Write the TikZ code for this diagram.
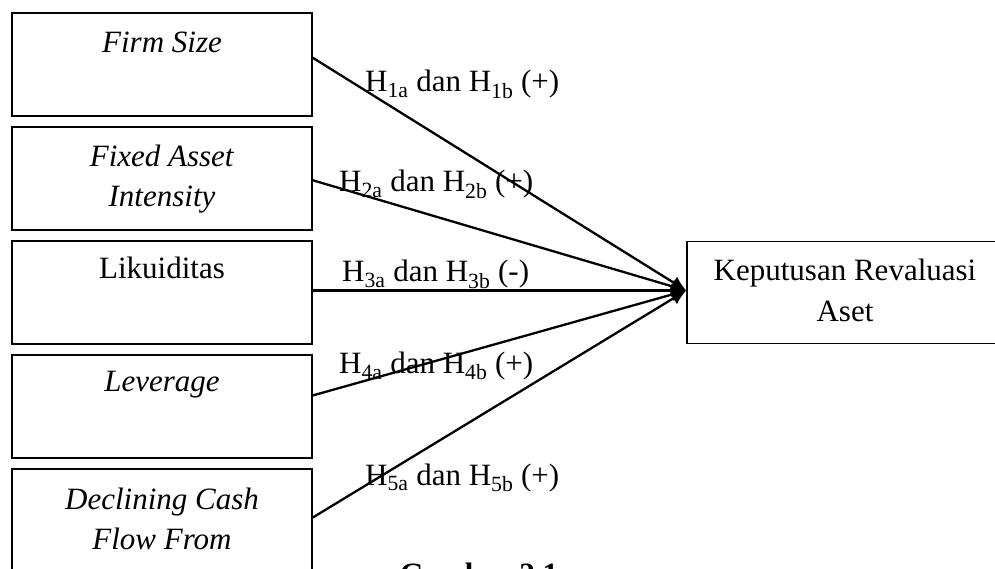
\documentclass[tikz,border=0pt]{standalone}
\usepackage{fontspec}
\setmainfont{Liberation Serif}
\usetikzlibrary{arrows.meta}
\begin{document}
\begin{tikzpicture}[x=1pt,y=-1pt,
  box/.style={draw, line width=1.5pt, minimum width=300pt, minimum height=103pt, inner sep=0pt},
  rbox/.style={draw, line width=1.5pt, minimum width=316pt, minimum height=101.6pt, inner sep=0pt},
  txt/.style={inner sep=0pt, anchor=base, font=\fontsize{31}{40}\selectfont},
  hyp/.style={inner sep=0pt, anchor=base west, font=\fontsize{31}{40}\selectfont},
  link/.style={line width=2.3pt, -{Latex[length=15pt,width=14pt]}}]
\useasboundingbox (0,0) rectangle (995,568);
\clip (0,0) rectangle (995,568);

% independent variable boxes
\node[box] (b1) at (162,64.5) {};
\node[box] (b2) at (162,178.5) {};
\node[box] (b3) at (162,292.7) {};
\node[box] (b4) at (162,406.7) {};
\node[box] (b5) at (162,520.5) {};

\node[txt] (t1) at ([yshift=-40pt]b1.north) {\textit{Firm Size}};
\node[txt] (t2a) at ([yshift=-40pt]b2.north) {\textit{Fixed Asset}};
\node[txt] (t2b) at ([yshift=-80pt]b2.north) {\textit{Intensity}};
\node[txt] (t3) at ([yshift=-38.5pt]b3.north) {Likuiditas};
\node[txt] (t4) at ([yshift=-37.5pt]b4.north) {\textit{Leverage}};
\node[txt] (t5a) at ([yshift=-41pt]b5.north) {\textit{Declining Cash}};
\node[txt] (t5b) at ([yshift=-81pt]b5.north) {\textit{Flow From}};

% dependent variable box
\node[rbox] (rb) at (845,292.5) {};
\node[txt] (r1) at ([yshift=-40pt]rb.north) {Keputusan Revaluasi};
\node[txt] (r2) at ([yshift=-81pt]rb.north) {Aset};

\coordinate (tip) at ([yshift=2pt]rb.west);
\coordinate (s1) at ([yshift=-45.5pt]b1.north east);
\coordinate (s2) at ([yshift=-54pt]b2.north east);
\coordinate (s3) at (b3.east |- tip);
\coordinate (s4) at ([yshift=-41pt]b4.north east);
\coordinate (s5) at ([yshift=-49.3pt]b5.north east);

\draw[link] (s1) -- (tip);
\draw[link] (s2) -- (tip);
\draw[link] (s3) -- (tip);
\draw[link] (s4) -- (tip);
\draw[link] (s5) -- (tip);

% hypothesis labels
\node[hyp] (h1) at (365,91.7) {H\textsubscript{1a} dan H\textsubscript{1b} (+)};
\node[hyp] (h2) at (339,191.7) {H\textsubscript{2a} dan H\textsubscript{2b} (+)};
\node[hyp] (h3) at (342,281.7) {H\textsubscript{3a} dan H\textsubscript{3b} (-)};
\node[hyp] (h4) at (339,373.3) {H\textsubscript{4a} dan H\textsubscript{4b} (+)};
\node[hyp] (h5) at (365,485) {H\textsubscript{5a} dan H\textsubscript{5b} (+)};

% caption
\node[txt] (cap) at (479,584) {\textbf{Gambar 2.1}};
\end{tikzpicture}
\end{document}
